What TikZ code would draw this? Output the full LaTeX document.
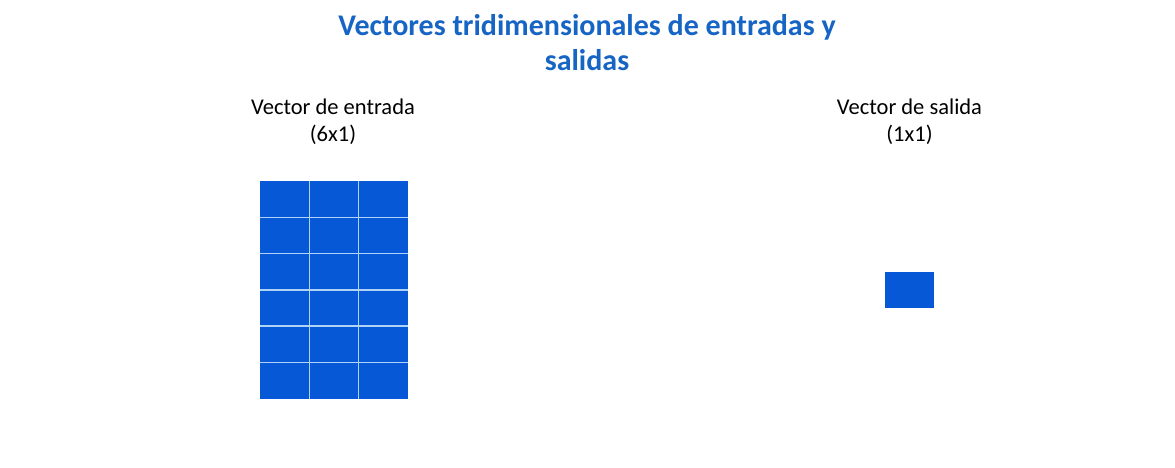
\documentclass[tikz,border=0pt]{standalone}
\usepackage{fontspec}
\setmainfont{Carlito}
\definecolor{cellblue}{RGB}{6,88,214}
\definecolor{titleblue}{RGB}{22,100,196}
\definecolor{gridline}{RGB}{175,210,248}
\begin{document}
\begin{tikzpicture}[x=1pt,y=-1pt,
  cell/.style={fill=cellblue,draw=none,minimum width=49.3pt,minimum height=36.3pt,inner sep=0pt,outer sep=0pt,anchor=north west},
  sep/.style={draw=gridline,line width=1.6pt},
  lbl/.style={font=\fontsize{22.5}{27}\selectfont,align=center,text=black},
  ttl/.style={font=\fontsize{30}{35}\selectfont\bfseries,align=center,text=titleblue}]
\useasboundingbox (0,0) rectangle (1175,467);
\node[ttl] (title) at (587,43) {Vectores tridimensionales de entradas y\\salidas};
\node[lbl] (lin) at (333,122) {Vector de entrada\\(6x1)};
\node[lbl] (lout) at (909.5,122) {Vector de salida\\(1x1)};
\foreach \r in {0,...,5}{
  \foreach \c in {0,...,2}{
    \node[cell] (in-\r-\c) at ({260+\c*49.3},{181+\r*36.3}) {};
  }
}
\foreach \c in {1,2}{
  \draw[sep] (in-0-\c.north west) -- (in-5-\c.south west);
}
\foreach \r in {1,...,5}{
  \draw[sep] (in-\r-0.north west) -- (in-\r-2.north east);
}
\node[cell] (out) at (885,272) {};
\end{tikzpicture}
\end{document}
